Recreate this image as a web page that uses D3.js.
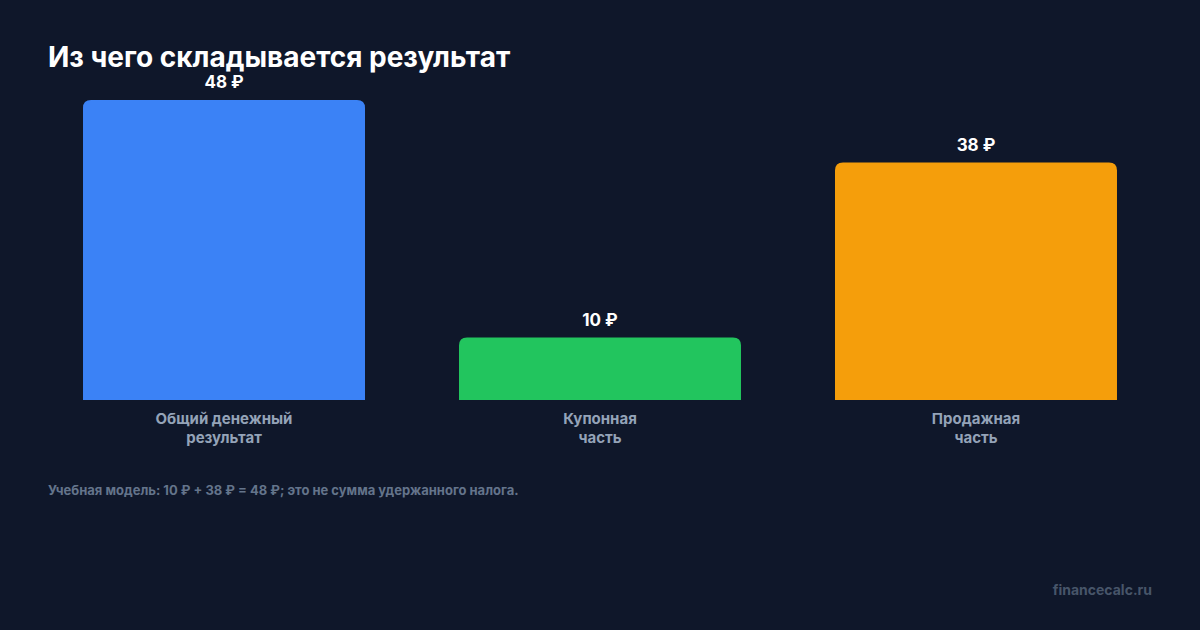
<!DOCTYPE html>
<html><head><meta charset="utf-8">
<script src="https://cdn.jsdelivr.net/npm/d3@7/dist/d3.min.js"></script>
<style>html,body{margin:0;padding:0;background:#0f172a;}svg{display:block;}</style>
</head><body>
<script>
const categories = [["Общий денежный","результат"],["Купонная","часть"],["Продажная","часть"]];
const values = [48, 10, 38];
const valueLabels = ["48 ₽","10 ₽","38 ₽"];
const colors = ["#3b82f6","#22c55e","#f59e0b"];
const title = "Из чего складывается результат";
const note = "Учебная модель: 10 ₽ + 38 ₽ = 48 ₽; это не сумма удержанного налога.";
const brand = "financecalc.ru";

const W=1200,H=630;
const svg=d3.select("body").append("svg").attr("width",W).attr("height",H);
svg.append("rect").attr("width",W).attr("height",H).attr("fill","#0f172a");
const font="Inter, 'DejaVu Sans', sans-serif";

const x=d3.scaleBand().domain(d3.range(values.length)).range([48,1152]).paddingInner(0.25).paddingOuter(0.0931);
const y=d3.scaleLinear().domain([0,48]).range([400,100]);

svg.append("text").attr("x",48).attr("y",67).attr("fill","#ffffff").attr("font-family",font)
  .attr("font-weight",700).attr("font-size",28).text(title);

const r=8;
function barPath(x0,y0,w,h){
  const rr=Math.min(r,h/2,w/2);
  return `M${x0},${y0+h}V${y0+rr}Q${x0},${y0} ${x0+rr},${y0}H${x0+w-rr}Q${x0+w},${y0} ${x0+w},${y0+rr}V${y0+h}Z`;
}
const g=svg.append("g");
values.forEach((v,i)=>{
  const bx=x(i), bw=x.bandwidth(), by=y(v), bh=y(0)-y(v);
  g.append("path").attr("d",barPath(bx,by,bw,bh)).attr("fill",colors[i]);
  g.append("text").attr("x",bx+bw/2).attr("y",by-12).attr("text-anchor","middle")
    .attr("fill","#ffffff").attr("font-family",font).attr("font-weight",700).attr("font-size",17).text(valueLabels[i]);
  const t=g.append("text").attr("x",bx+bw/2).attr("y",424).attr("text-anchor","middle")
    .attr("fill","#94a3b8").attr("font-family",font).attr("font-weight",700).attr("font-size",15);
  categories[i].forEach((line,j)=>t.append("tspan").attr("x",bx+bw/2).attr("dy",j?19:0).text(line));
});

svg.append("text").attr("x",48).attr("y",495).attr("fill","#64748b").attr("font-family",font)
  .attr("font-weight",700).attr("font-size",13).text(note);
svg.append("text").attr("x",1152).attr("y",595).attr("text-anchor","end").attr("fill","#475569")
  .attr("font-family",font).attr("font-weight",700).attr("font-size",14).text(brand);
</script>
</body></html>
